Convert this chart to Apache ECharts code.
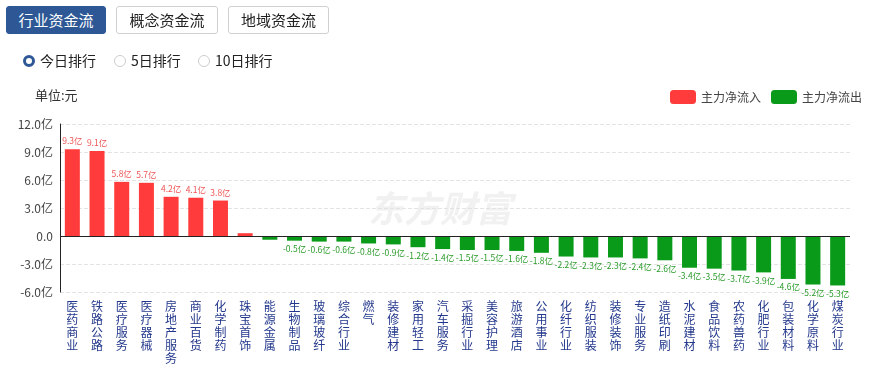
<!DOCTYPE html>
<html><head><meta charset="utf-8">
<script src="https://cdn.jsdelivr.net/npm/echarts@6/dist/echarts.min.js"></script>
<style>
html,body{margin:0;padding:0;background:#fff;width:869px;height:368px;overflow:hidden;font-family:"Noto Sans CJK SC","Noto Sans",sans-serif;}
#chart{position:absolute;left:0;top:0;width:869px;height:368px;}
.btn{position:absolute;top:6px;height:28px;box-sizing:border-box;border:1px solid #d0d0d0;border-radius:3px;background:#fff;color:#222;font-size:15px;line-height:26px;text-align:center;z-index:2;}
.btn.on{background:#2d5795;border-color:#2d5795;color:#fff;}
.radio{position:absolute;top:51px;font-size:14px;color:#222;line-height:18px;z-index:2;}
.radio i{display:inline-block;width:12px;height:12px;border-radius:50%;border:1px solid #ccc;box-sizing:border-box;vertical-align:-1px;margin-right:5px;}
.radio.on i{border:3.5px solid #2d5795;}
</style></head>
<body>
<div class="btn on" style="left:6px;width:100px;">行业资金流</div>
<div class="btn" style="left:116px;width:102px;">概念资金流</div>
<div class="btn" style="left:228px;width:101px;">地域资金流</div>
<div class="radio on" style="left:23px;"><i></i>今日排行</div>
<div class="radio" style="left:114px;"><i></i>5日排行</div>
<div class="radio" style="left:198px;"><i></i>10日排行</div>
<div id="chart"></div>
<script>
var categories = ["医药商业","铁路公路","医疗服务","医疗器械","房地产服务","商业百货","化学制药","珠宝首饰","能源金属","生物制品","玻璃玻纤","综合行业","燃气","装修建材","家用轻工","汽车服务","采掘行业","美容护理","旅游酒店","公用事业","化纤行业","纺织服装","装修装饰","专业服务","造纸印刷","水泥建材","食品饮料","农药兽药","化肥行业","包装材料","化学原料","煤炭行业"];
var netFlow = [9.3,9.1,5.8,5.7,4.2,4.1,3.8,0.3,-0.4,-0.5,-0.6,-0.6,-0.8,-0.9,-1.2,-1.4,-1.5,-1.5,-1.6,-1.8,-2.2,-2.3,-2.3,-2.4,-2.6,-3.4,-3.5,-3.7,-3.9,-4.6,-5.2,-5.3];
var yTicks = {min:-6, max:12, interval:3};
var legendNames = ["主力净流入","主力净流出"];

var inflow = netFlow.map(function(v){return v>0?v:null;});
var outflow = netFlow.map(function(v){return v<0?v:null;});
var RED = '#ff3b3b', GREEN = '#0a9a19';

function lbl(p){ var v=p.value; if(v==null||Math.abs(v)<0.5) return ''; return v.toFixed(1)+'亿'; }

var chart = echarts.init(document.getElementById('chart'));
chart.setOption({
  animation:false,
  textStyle:{fontFamily:'"Noto Sans CJK SC","Noto Sans",sans-serif'},
  graphic:[
    {type:'text',left:35,top:89,style:{text:'单位:元',fontSize:13,fill:'#333',fontFamily:'"Noto Sans CJK SC",sans-serif'}},
    {type:'text',left:368,top:190,z:-10,style:{text:'东方财富',fontSize:36,fontWeight:'bold',fontStyle:'italic',fill:'#f1f1f1',fontFamily:'"Noto Sans CJK SC",sans-serif'}}
  ],
  legend:{right:2,top:85,itemWidth:26,itemHeight:14,itemGap:10,
    textStyle:{fontSize:12,color:'#444'},
    data:[{name:legendNames[0],itemStyle:{color:RED}},{name:legendNames[1],itemStyle:{color:GREEN}}]},
  grid:{left:60,right:19,top:124,bottom:76},
  xAxis:{type:'category',data:categories,
    axisLine:{show:false},axisTick:{show:false},
    axisLabel:{interval:0,margin:8,fontSize:12,lineHeight:13,color:'#23388c',
      formatter:function(s){return s.split('').join('\n');}}},
  yAxis:{type:'value',min:yTicks.min,max:yTicks.max,interval:yTicks.interval,
    axisLine:{show:true,lineStyle:{color:'#222'}},axisTick:{show:false},
    splitLine:{lineStyle:{type:'dashed',color:'#e3e3e3'}},
    axisLabel:{margin:7,fontSize:12,color:'#444',
      formatter:function(v){return v===0?'0.0':v.toFixed(1)+'亿';}}},
  series:[
    {name:legendNames[0],type:'bar',stack:'f',data:inflow,barWidth:15,
      itemStyle:{color:RED},
      label:{show:true,position:'top',distance:4,fontSize:8.5,color:'#ee5555',formatter:lbl},
      markLine:{silent:true,symbol:'none',label:{show:false},
        lineStyle:{type:'solid',color:'#222',width:1},data:[{yAxis:0}]}},
    {name:legendNames[1],type:'bar',stack:'f',data:outflow,barWidth:15,
      itemStyle:{color:GREEN},
      label:{show:true,position:'bottom',distance:4,fontSize:8.5,color:'#2a9a2a',formatter:lbl}}
  ]
});
</script>
</body></html>
